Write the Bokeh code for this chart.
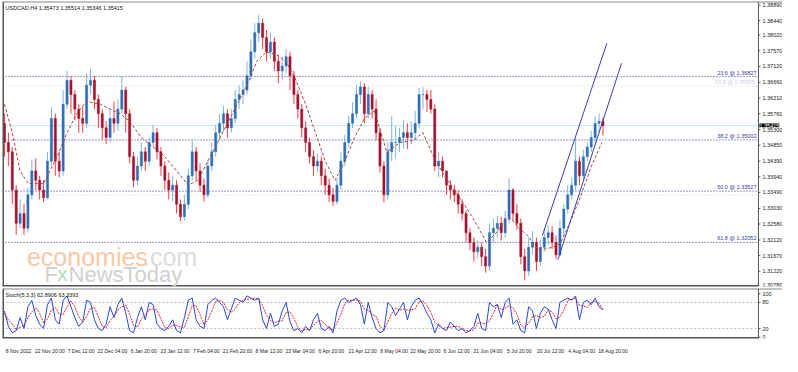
from bokeh.plotting import figure
from bokeh.models import (Range1d, FixedTicker, Label, ColumnDataSource, CustomJSTickFormatter)
from bokeh.layouts import column
from bokeh.embed import file_html
from bokeh.resources import INLINE
from bokeh.core.properties import value

FONT = "Liberation Sans"

# ---------------- data ----------------
chart_title = "USDCAD,H4  1.35473 1.35514 1.35346 1.35415"
first_open = 1.3548
close = [1.3493, 1.3466, 1.3356, 1.3260, 1.3288, 1.3246, 1.3342, 1.3411, 1.3384, 1.3356,
         1.3334, 1.3439, 1.3562, 1.3439, 1.3411, 1.3603, 1.3672, 1.3631, 1.3589, 1.3562,
         1.3548, 1.3658, 1.3672, 1.3617, 1.3576, 1.3535, 1.3507, 1.3562, 1.3548, 1.3589,
         1.3644, 1.3576, 1.3452, 1.3384, 1.3425, 1.3466, 1.3439, 1.3493, 1.3521, 1.3466,
         1.3425, 1.3384, 1.3356, 1.3370, 1.3315, 1.3279, 1.3315, 1.3397, 1.3466, 1.3411,
         1.3370, 1.3342, 1.3425, 1.3466, 1.3521, 1.3548, 1.3576, 1.3535, 1.3562, 1.3617,
         1.3631, 1.3644, 1.3685, 1.3754, 1.3809, 1.3836, 1.3795, 1.3754, 1.3782, 1.3727,
         1.3699, 1.3713, 1.3740, 1.3685, 1.3631, 1.3589, 1.3535, 1.3493, 1.3452, 1.3425,
         1.3439, 1.3397, 1.3370, 1.3342, 1.3323, 1.3370, 1.3439, 1.3493, 1.3548, 1.3576,
         1.3631, 1.3653, 1.3576, 1.3631, 1.3589, 1.3521, 1.3425, 1.3342, 1.3466, 1.3493,
         1.3493, 1.3507, 1.3521, 1.3507, 1.3521, 1.3548, 1.3631, 1.3631, 1.3617, 1.3589,
         1.3425, 1.3439, 1.3411, 1.3370, 1.3356, 1.3342, 1.3315, 1.3288, 1.3233, 1.3205,
         1.3178, 1.3191, 1.3164, 1.3137, 1.3233, 1.3246, 1.3260, 1.3233, 1.3274, 1.3356,
         1.3288, 1.3260, 1.3164, 1.3123, 1.3191, 1.3205, 1.3150, 1.3191, 1.3219, 1.3233,
         1.3205, 1.3169, 1.3246, 1.3301, 1.3342, 1.3370, 1.3439, 1.3397, 1.3452, 1.3480,
         1.3507, 1.3548, 1.3554, 1.35415]
high = [1.3576, 1.3521, 1.3480, 1.3370, 1.3329, 1.3315, 1.3362, 1.3444, 1.3447, 1.3397,
        1.3384, 1.3466, 1.3595, 1.3576, 1.3466, 1.3644, 1.3699, 1.3685, 1.3644, 1.3603,
        1.3595, 1.3691, 1.3705, 1.3685, 1.3631, 1.3589, 1.3554, 1.3589, 1.3611, 1.3617,
        1.3685, 1.3653, 1.3589, 1.3466, 1.3452, 1.3493, 1.3480, 1.3507, 1.3543, 1.3535,
        1.3480, 1.3439, 1.3406, 1.3397, 1.3384, 1.3329, 1.3342, 1.3417, 1.3499, 1.3480,
        1.3433, 1.3389, 1.3444, 1.3493, 1.3543, 1.3576, 1.3598, 1.3589, 1.3589, 1.3644,
        1.3658, 1.3672, 1.3727, 1.3790, 1.3836, 1.3861, 1.3850, 1.3817, 1.3809, 1.3795,
        1.3746, 1.3740, 1.3762, 1.3754, 1.3699, 1.3644, 1.3603, 1.3554, 1.3507, 1.3471,
        1.3461, 1.3452, 1.3417, 1.3389, 1.3362, 1.3389, 1.3466, 1.3515, 1.3570, 1.3609,
        1.3658, 1.3669, 1.3664, 1.3653, 1.3644, 1.3617, 1.3535, 1.3439, 1.3493, 1.3568,
        1.3540, 1.3535, 1.3557, 1.3548, 1.3554, 1.3584, 1.3650, 1.3653, 1.3644, 1.3644,
        1.3603, 1.3466, 1.3452, 1.3397, 1.3384, 1.3370, 1.3356, 1.3329, 1.3296, 1.3246,
        1.3219, 1.3211, 1.3205, 1.3186, 1.3260, 1.3274, 1.3282, 1.3279, 1.3296, 1.3389,
        1.3362, 1.3315, 1.3274, 1.3186, 1.3219, 1.3238, 1.3219, 1.3214, 1.3246, 1.3255,
        1.3252, 1.3225, 1.3268, 1.3315, 1.3370, 1.3392, 1.3504, 1.3452, 1.3471, 1.3493,
        1.3526, 1.3570, 1.3576, 1.3565]
low = [1.3452, 1.3425, 1.3315, 1.3227, 1.3246, 1.3227, 1.3233, 1.3329, 1.3356, 1.3329,
       1.3321, 1.3329, 1.3425, 1.3397, 1.3392, 1.3397, 1.3589, 1.3576, 1.3557, 1.3521,
       1.3521, 1.3535, 1.3631, 1.3589, 1.3535, 1.3499, 1.3488, 1.3493, 1.3521, 1.3526,
       1.3576, 1.3521, 1.3433, 1.3364, 1.3370, 1.3411, 1.3411, 1.3425, 1.3480, 1.3444,
       1.3397, 1.3356, 1.3329, 1.3323, 1.3288, 1.3266, 1.3268, 1.3301, 1.3384, 1.3384,
       1.3351, 1.3323, 1.3334, 1.3411, 1.3452, 1.3499, 1.3526, 1.3507, 1.3521, 1.3548,
       1.3589, 1.3603, 1.3631, 1.3672, 1.3735, 1.3782, 1.3762, 1.3727, 1.3735, 1.3699,
       1.3664, 1.3672, 1.3691, 1.3644, 1.3603, 1.3562, 1.3507, 1.3466, 1.3433, 1.3397,
       1.3406, 1.3370, 1.3342, 1.3321, 1.3310, 1.3315, 1.3356, 1.3425, 1.3480, 1.3535,
       1.3562, 1.3603, 1.3548, 1.3562, 1.3562, 1.3499, 1.3406, 1.3321, 1.3329, 1.3439,
       1.3447, 1.3466, 1.3474, 1.3474, 1.3488, 1.3499, 1.3535, 1.3589, 1.3581, 1.3576,
       1.3411, 1.3392, 1.3392, 1.3342, 1.3329, 1.3321, 1.3288, 1.3268, 1.3205, 1.3183,
       1.3150, 1.3159, 1.3137, 1.3118, 1.3123, 1.3205, 1.3219, 1.3211, 1.3219, 1.3260,
       1.3268, 1.3241, 1.3142, 1.3096, 1.3109, 1.3170, 1.3123, 1.3137, 1.3178, 1.3197,
       1.3186, 1.3156, 1.3164, 1.3225, 1.3288, 1.3329, 1.3356, 1.3370, 1.3384, 1.3439,
       1.3466, 1.3493, 1.3521, 1.3513]

ma_x = [0, 2, 4, 6, 8, 10, 12, 14, 16, 18.5, 21, 24.5, 27, 29.5, 32, 35, 38, 41, 44, 47,
        49.5, 52, 54.5, 57, 59.5, 62, 64.5, 67, 69.5, 72, 74.5, 77, 79.5, 82, 84.5, 87,
        89.5, 92, 94.5, 97.75, 101.25, 104.5, 107, 110, 112.5, 115, 117.5, 120.25, 123.25,
        125.75, 127.75, 129.5, 131.5, 133.75, 136.25, 138.25, 140, 142, 144.5, 147, 150.25, 152.75]
ma_y = [1.3603, 1.3521, 1.3411, 1.3375, 1.3375, 1.3375, 1.3419, 1.3466, 1.3521, 1.3576,
        1.3611, 1.3603, 1.3589, 1.3576, 1.3554, 1.3507, 1.3480, 1.3452, 1.3411, 1.3370,
        1.3384, 1.3439, 1.3493, 1.3548, 1.3603, 1.3658, 1.3727, 1.3754, 1.3746, 1.3727,
        1.3672, 1.3603, 1.3521, 1.3439, 1.3384, 1.3439, 1.3507, 1.3562, 1.3584, 1.3466,
        1.3493, 1.3499, 1.3521, 1.3444, 1.3397, 1.3356, 1.3315, 1.3266, 1.3205, 1.3233,
        1.3266, 1.3274, 1.3246, 1.3225, 1.3186, 1.3186, 1.3191, 1.3200, 1.3260, 1.3329,
        1.3430, 1.3493]

fib_levels = [1.36827, 1.35002, 1.33527, 1.32052]
fib_labels = ["23.6 @ 1.36827", "38.2 @ 1.35002", "50.0 @ 1.33527", "61.8 @ 1.32052"]
fib2_levels = [1.36555, 1.33410]
fib2_labels = ["61.8 @ 1.36555", ""]
current_price = 1.35415
current_label = "1.35415"

channel_upper_x = [137.5, 154.0]
channel_upper_y = [1.32245, 1.37787]
channel_lower_x = [141.5, 157.75]
channel_lower_y = [1.31558, 1.37211]

price_ticks = [1.38890, 1.38440, 1.38020, 1.37570, 1.37120, 1.36660, 1.36210, 1.35760,
               1.35300, 1.34850, 1.34390, 1.33940, 1.33490, 1.33030, 1.32580, 1.32120,
               1.31670, 1.31220]
price_bottom_label = "1.30780"

time_tick_index = [0, 8, 16, 24, 32, 40, 48, 56, 64, 72, 80, 88, 96, 104, 112, 120, 128, 136, 144, 152]
time_tick_labels = ["8 Nov 2022", "22 Nov 20:00", "7 Dec 12:00", "22 Dec 04:00", "6 Jan 20:00",
                    "23 Jan 12:00", "7 Feb 04:00", "21 Feb 20:00", "8 Mar 12:00", "23 Mar 04:00",
                    "6 Apr 20:00", "21 Apr 12:00", "8 May 04:00", "22 May 20:00", "6 Jun 12:00",
                    "21 Jun 04:00", "5 Jul 20:00", "20 Jul 12:00", "4 Aug 04:00", "18 Aug 20:00"]

stoch_main = [60, 25, 10, 15, 45, 20, 70, 85, 50, 30,
              20, 75, 90, 40, 30, 85, 95, 70, 45, 25,
              35, 85, 80, 40, 20, 15, 30, 70, 45, 75,
              90, 55, 15, 10, 45, 70, 40, 80, 75, 30,
              20, 15, 25, 40, 15, 10, 45, 85, 90, 40,
              25, 20, 75, 85, 90, 80, 70, 40, 65, 90,
              85, 80, 95, 90, 85, 90, 40, 20, 55, 25,
              30, 60, 80, 35, 15, 20, 10, 25, 15, 40,
              55, 20, 15, 25, 10, 60, 85, 90, 80, 85,
              90, 75, 30, 80, 45, 20, 10, 15, 80, 70,
              50, 65, 80, 40, 70, 85, 90, 75, 55, 40,
              10, 30, 20, 15, 35, 25, 15, 20, 10, 15,
              25, 55, 20, 15, 80, 70, 75, 45, 80, 90,
              30, 40, 15, 10, 70, 60, 20, 55, 70, 65,
              40, 20, 80, 85, 90, 85, 95, 40, 80, 85,
              75, 90, 70, 62.9]
stoch_signal = [55, 40, 30, 17, 23, 27, 45, 58, 68, 55,
                33, 42, 62, 68, 53, 52, 70, 83, 70, 47,
                35, 48, 67, 68, 47, 25, 22, 38, 48, 63,
                70, 73, 53, 27, 23, 42, 52, 63, 65, 62,
                42, 22, 20, 27, 27, 23, 23, 47, 73, 72,
                52, 28, 40, 60, 83, 85, 80, 63, 58, 65,
                80, 85, 87, 88, 90, 88, 72, 50, 38, 33,
                37, 38, 57, 58, 43, 23, 15, 18, 17, 27,
                37, 38, 30, 20, 17, 32, 52, 78, 85, 85,
                85, 83, 65, 62, 52, 48, 25, 15, 35, 55,
                67, 62, 65, 62, 63, 65, 82, 83, 73, 57,
                35, 27, 20, 22, 23, 25, 25, 20, 15, 15,
                17, 32, 33, 30, 38, 55, 75, 63, 67, 72,
                67, 53, 28, 22, 32, 47, 50, 45, 48, 63,
                58, 42, 47, 62, 85, 87, 90, 73, 72, 68,
                80, 83, 78, 63.3]
stoch_levels = [80, 20]
stoch_ticks = [100, 80, 20, 0]
stoch_caption = "Stoch(5,3,3) 62.8906 63.3393"

# ---------------- derived ----------------
n = len(close)
xs = list(range(n))
opens = [first_open] + close[:-1]
bull = [c >= o for o, c in zip(opens, close)]
src = ColumnDataSource(dict(
    x=xs, high=high, low=low,
    top=[max(o, c) for o, c in zip(opens, close)],
    bottom=[min(o, c) for o, c in zip(opens, close)],
    wick=["#7db3e3" if b else "#ff3a3a" for b in bull],
    body=["#2f6db5" if b else "#a3122f" for b in bull],
))

# layout constants (plot frame spans the full width; price scale drawn inside)
X0, XEND = -0.5, 198.9
XAX = 192.75           # position of the price-scale line
TICK = 0.5
Y0, Y1 = 1.3078, 1.3899
S0, S1 = -3, 112
SMALL = "5.5px"
BORDER = "#555555"


def frame_box(fig, ylo, yhi, top=True):
    fig.segment(x0=[X0], y0=[ylo], x1=[XAX], y1=[ylo], line_color=BORDER, line_width=3)
    fig.segment(x0=[X0], y0=[ylo], x1=[X0], y1=[yhi], line_color=BORDER, line_width=3)
    if top:
        fig.segment(x0=[X0], y0=[yhi], x1=[XEND], y1=[yhi], line_color="#888888", line_width=2)
    fig.segment(x0=[XAX], y0=[ylo], x1=[XAX], y1=[yhi], line_color=BORDER, line_width=1)


# ---------------- main price panel ----------------
p = figure(width=782, height=287, x_range=Range1d(X0, XEND), y_range=Range1d(Y0, Y1),
           x_axis_location=None, y_axis_location=None,
           output_backend="svg", toolbar_location=None,
           min_border_left=2, min_border_right=0, min_border_top=1, min_border_bottom=1)
p.grid.visible = False
p.outline_line_color = None

# watermark
p.add_layout(Label(x=5.75, y=1.3164, text="economies", text_font=FONT, text_font_size="25px",
                   text_color="#f8c9a4", text_baseline="alphabetic"))
p.add_layout(Label(x=5.75, y=1.3164, x_offset=116, text=".com", text_font=FONT, text_font_size="25px",
                   text_color="#dcdcdc", text_baseline="alphabetic"))
p.add_layout(Label(x=10.25, y=1.3114, text="F", text_font=FONT, text_font_size="22px",
                   text_color="#cfcfcf", text_baseline="alphabetic"))
p.add_layout(Label(x=10.25, y=1.3114, x_offset=13, text="x", text_font=FONT, text_font_size="20px",
                   text_color="#b5dcb5", text_baseline="alphabetic"))
p.add_layout(Label(x=10.25, y=1.3114, x_offset=24, text="NewsToday", text_font=FONT, text_font_size="22px",
                   text_color="#cfcfcf", text_baseline="alphabetic"))

# current price line
p.segment(x0=[X0], y0=[current_price], x1=[XAX], y1=[current_price], line_color="#bfe9f3", line_width=1)

# fibonacci levels
for lv, lab in zip(fib2_levels, fib2_labels):
    p.segment(x0=[X0], y0=[lv], x1=[XAX], y1=[lv], line_color="#d0d0ec", line_width=1, line_dash="1 2")
    if lab:
        p.add_layout(Label(x=XAX, y=lv, x_offset=-4, y_offset=1, text=lab, text_align="right",
                           text_baseline="bottom", text_font=FONT, text_font_size=SMALL,
                           text_color="#d0d0ec"))
for lv, lab in zip(fib_levels, fib_labels):
    p.segment(x0=[X0], y0=[lv], x1=[XAX], y1=[lv], line_color="#3232a6", line_width=1, line_dash="1 2")
    p.add_layout(Label(x=XAX, y=lv, x_offset=-2, y_offset=1, text=lab, text_align="right",
                       text_baseline="bottom", text_font=FONT, text_font_size=SMALL,
                       text_color="#3a3aa8"))

# candles
p.segment(x0="x", y0="high", x1="x", y1="low", source=src, line_color="wick", line_width=1)
p.vbar(x="x", width=0.55, top="top", bottom="bottom", source=src,
       fill_color="body", line_color="body", line_width=0.5)

# moving average
p.line(ma_x, ma_y, line_color="#a5463c", line_width=1, line_dash="3 2")

# channel
p.line(channel_upper_x, channel_upper_y, line_color="#3c3cb0", line_width=1)
p.line(channel_lower_x, channel_lower_y, line_color="#3c3cb0", line_width=1)

# price scale
frame_box(p, Y0, Y1)
p.segment(x0=[XAX] * len(price_ticks), y0=price_ticks, x1=[XAX + TICK] * len(price_ticks), y1=price_ticks,
          line_color=BORDER, line_width=1)
p.text(x=[XAX] * len(price_ticks), y=price_ticks, text=[f"{t:.5f}" for t in price_ticks],
       x_offset=4, text_align="left", text_baseline="middle",
       text_font=value(FONT), text_font_size=SMALL, text_color="#222222")
p.text(x=[XAX], y=[Y0], text=[price_bottom_label], x_offset=4, text_align="left",
       text_baseline="bottom", text_font=value(FONT), text_font_size=SMALL, text_color="#222222")
p.add_layout(Label(x=XAX, y=current_price, x_offset=1, text=current_label, text_baseline="middle",
                   text_align="left", text_font=FONT, text_font_size=SMALL, text_color="white",
                   background_fill_color="black"))

# title
p.add_layout(Label(x=X0, y=Y1, x_offset=3, y_offset=-3, text=chart_title, text_baseline="top",
                   text_font=FONT, text_font_size=SMALL, text_color="#111111"))

# ---------------- stochastic panel ----------------
s = figure(width=782, height=69, x_range=p.x_range, y_range=Range1d(S0, S1),
           y_axis_location=None, x_axis_location="below",
           output_backend="svg", toolbar_location=None,
           min_border_left=2, min_border_right=0, min_border_top=1, min_border_bottom=12)
s.grid.visible = False
s.outline_line_color = None

for lv in stoch_levels:
    s.segment(x0=[X0], y0=[lv], x1=[XAX], y1=[lv], line_color="#bdbdbd", line_width=1, line_dash="2 2")

s.line(list(range(len(stoch_signal))), stoch_signal, line_color="#e8202a", line_width=1, line_dash="2 1")
s.line(list(range(len(stoch_main))), stoch_main, line_color="#2a46d6", line_width=1)

frame_box(s, S0, S1)
s.segment(x0=[XAX] * len(stoch_ticks), y0=stoch_ticks, x1=[XAX + TICK] * len(stoch_ticks), y1=stoch_ticks,
          line_color=BORDER, line_width=1)
s.text(x=[XAX] * len(stoch_ticks), y=stoch_ticks, text=[str(t) for t in stoch_ticks],
       x_offset=4, text_align="left", text_baseline="middle",
       text_font=value(FONT), text_font_size=SMALL, text_color="#222222")

s.add_layout(Label(x=X0, y=S1, x_offset=3, y_offset=-3, text=stoch_caption, text_baseline="top",
                   text_font=FONT, text_font_size=SMALL, text_color="#111111"))

sx = s.xaxis[0]
sx.ticker = FixedTicker(ticks=[t + 3.6 for t in time_tick_index])
sx.formatter = CustomJSTickFormatter(args=dict(labels=time_tick_labels),
                                     code="return labels[index] || '';")
sx.major_label_text_font = FONT
sx.major_label_text_font_size = "5px"
sx.major_label_text_color = "#222222"
sx.major_tick_line_color = None
sx.minor_tick_line_color = None
sx.major_label_standoff = 3
sx.axis_line_color = None

layout = column(p, s, spacing=0)
open("out.html", "w").write(file_html(layout, INLINE))
